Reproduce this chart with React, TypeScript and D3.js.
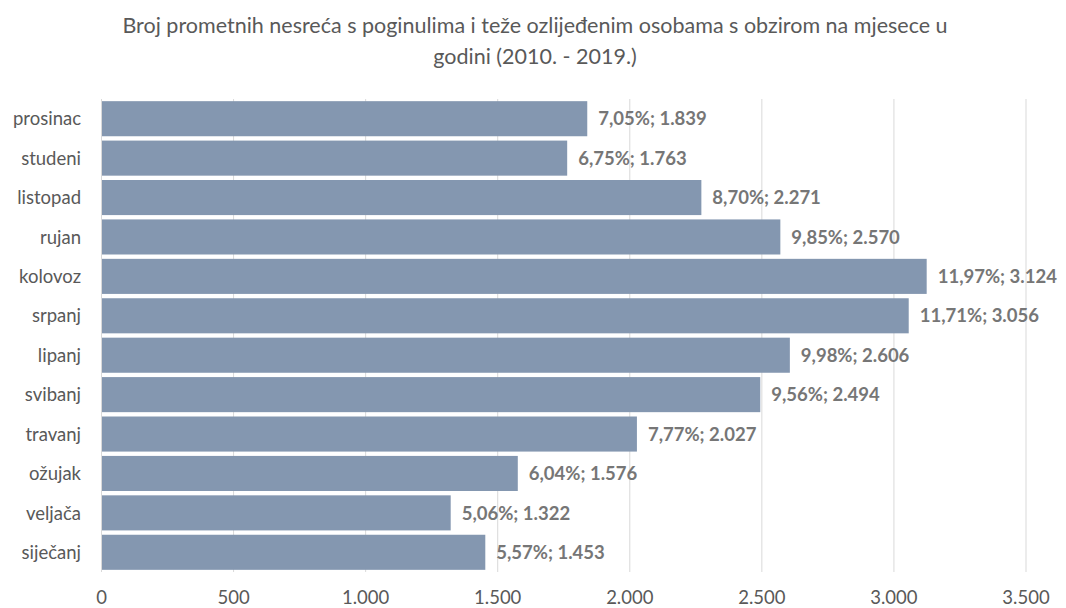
import React, { useRef, useEffect } from 'react';
import * as d3 from 'd3';

const months = ['prosinac', 'studeni', 'listopad', 'rujan', 'kolovoz', 'srpanj', 'lipanj', 'svibanj', 'travanj', 'ožujak', 'veljača', 'siječanj'];
const counts = [1839, 1763, 2271, 2570, 3124, 3056, 2606, 2494, 2027, 1576, 1322, 1453];
const shares = ['7,05%', '6,75%', '8,70%', '9,85%', '11,97%', '11,71%', '9,98%', '9,56%', '7,77%', '6,04%', '5,06%', '5,57%'];
const ticks = [0, 500, 1000, 1500, 2000, 2500, 3000, 3500];
const titleLines = ['Broj prometnih nesreća s poginulima i teže ozlijeđenim osobama s obzirom na mjesece u', 'godini (2010. - 2019.)'];

export default function App() {
  const svgRef = useRef<SVGSVGElement>(null);

  useEffect(() => {
    const w = 1066;
    const h = 608;
    const font = 'Lato, "Open Sans", sans-serif';
    const fmt = (v: number) => d3.format(',')(v).replace(/,/g, '.');

    const svg = d3.select(svgRef.current)
      .attr('width', w)
      .attr('height', h)
      .style('display', 'block')
      .style('background', '#fff');
    svg.selectAll('*').remove();

    const x = d3.scaleLinear().domain([0, 3500]).range([101.5, 1026]);
    const y = d3.scaleBand().domain(months).range([99, 572]).paddingInner(0.11).paddingOuter(0.055);

    // title
    svg.append('g').selectAll('text')
      .data(titleLines)
      .join('text')
      .attr('x', 535)
      .attr('y', (d, i) => 33 + i * 31)
      .attr('text-anchor', 'middle')
      .style('font-family', font)
      .style('font-size', '21.5px')
      .attr('fill', '#595959')
      .text(d => d);

    // gridlines
    svg.append('g').selectAll('line')
      .data(ticks.slice(1))
      .join('line')
      .attr('x1', d => x(d)).attr('x2', d => x(d))
      .attr('y1', 99).attr('y2', 572)
      .attr('stroke', '#d9d9d9');

    // bars
    svg.append('g').selectAll('rect')
      .data(counts)
      .join('rect')
      .attr('x', x(0))
      .attr('y', (d, i) => y(months[i])!)
      .attr('width', d => x(d) - x(0))
      .attr('height', y.bandwidth())
      .attr('fill', '#8497b0');

    // left axis line
    svg.append('line')
      .attr('x1', x(0)).attr('x2', x(0))
      .attr('y1', 99).attr('y2', 572)
      .attr('stroke', '#d9d9d9');

    // data labels
    svg.append('g').selectAll('text')
      .data(counts)
      .join('text')
      .attr('x', d => x(d) + 11)
      .attr('y', (d, i) => y(months[i])! + y.bandwidth() / 2)
      .attr('dy', '0.36em')
      .style('font-family', font)
      .style('font-size', '18.5px')
      .style('font-weight', 'bold')
      .attr('fill', '#767676')
      .text((d, i) => `${shares[i]}; ${fmt(d)}`);

    // category labels
    svg.append('g').selectAll('text')
      .data(months)
      .join('text')
      .attr('x', 81)
      .attr('y', d => y(d)! + y.bandwidth() / 2)
      .attr('dy', '0.36em')
      .attr('text-anchor', 'end')
      .style('font-family', font)
      .style('font-size', '18.5px')
      .attr('fill', '#595959')
      .text(d => d);

    // x tick labels
    svg.append('g').selectAll('text')
      .data(ticks)
      .join('text')
      .attr('x', d => x(d))
      .attr('y', 604)
      .attr('text-anchor', 'middle')
      .style('font-family', font)
      .style('font-size', '18.5px')
      .attr('fill', '#595959')
      .text(d => fmt(d));
  }, []);

  return (
    <div style={{ position: 'fixed', left: 0, top: 0, width: 1066, height: 608 }}>
      <svg ref={svgRef}></svg>
    </div>
  );
}
